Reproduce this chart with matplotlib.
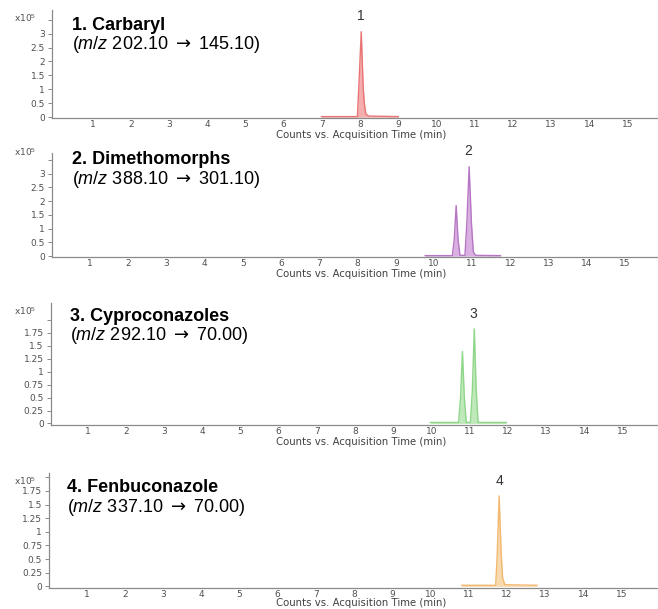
import matplotlib
matplotlib.use("Agg")
import matplotlib.pyplot as plt

plt.rcParams['font.family'] = ['Liberation Sans', 'DejaVu Sans']
plt.rcParams['mathtext.fontset'] = 'custom'
plt.rcParams['mathtext.rm'] = 'Liberation Sans'
plt.rcParams['mathtext.it'] = 'Liberation Sans:italic'
plt.rcParams['mathtext.sf'] = 'DejaVu Sans'

# retention time (min) and counts (x10^5)
t_carbaryl = [6.99, 7.93, 7.97, 8.03, 8.08, 8.11, 8.15, 8.22, 9.0]
c_carbaryl = [0.02, 0.02, 1.2, 3.07, 1.1, 0.5, 0.12, 0.04, 0.02]

t_dimeth = [9.77, 10.48, 10.53, 10.58, 10.63, 10.68, 10.81, 10.86, 10.92, 10.98, 11.03, 11.09, 11.74]
c_dimeth = [0.02, 0.02, 0.6, 1.84, 0.6, 0.03, 0.03, 1.2, 3.25, 1.2, 0.15, 0.03, 0.02]

t_cypro = [9.97, 10.71, 10.76, 10.81, 10.86, 10.91, 11.02, 11.07, 11.12, 11.17, 11.22, 11.96]
c_cypro = [0.02, 0.02, 0.5, 1.39, 0.5, 0.02, 0.02, 0.65, 1.83, 0.65, 0.02, 0.02]

t_fenbu = [10.82, 11.71, 11.75, 11.80, 11.85, 11.89, 11.95, 12.79]
c_fenbu = [0.02, 0.02, 0.6, 1.66, 0.65, 0.15, 0.03, 0.02]

names = ["1. Carbaryl", "2. Dimethomorphs", "3. Cyproconazoles", "4. Fenbuconazole"]
transitions = [("202.10", "145.10"), ("388.10", "301.10"), ("292.10", "70.00"), ("337.10", "70.00")]
peak_labels = ["1", "2", "3", "4"]
label_pos = [8.03, 10.90, 11.10, 11.80]
label_hgt = [3.07, 3.25, 1.83, 1.66]

traces = [(t_carbaryl, c_carbaryl), (t_dimeth, c_dimeth), (t_cypro, c_cypro), (t_fenbu, c_fenbu)]
fills = ['#f4a0a0', '#d3a3dc', '#b4e6ae', '#f9d3a0']
edges = ['#e87474', '#b676c4', '#8fd68a', '#f2b870']

W, H = 658, 609
# pixel boxes: left, top, bottom, x-zero pixel, ylim top, ytick step, ytick max
boxes = [(52, 10, 118, 54.5, 3.85, 0.5, 3.5),
         (52, 153, 257, 52.0, 3.75, 0.5, 3.5),
         (50.7, 303, 425, 49.5, 2.33, 0.25, 2.0),
         (49, 473, 588, 48.4, 2.08, 0.25, 2.0)]
label_gap = [12, 12, 12, 10]
text_y = [(30, 49), (164, 184), (321, 340), (492, 512)]
text_x = [72, 72, 70, 67]
x10_y = [22, 156, 315, 485]
px_per_min = 38.2

fig = plt.figure(figsize=(W / 100, H / 100), dpi=100)

for k in range(4):
    left, top, bot, x0, ytop, ystep, ymax = boxes[k]
    ax = fig.add_axes([left / W, 1 - bot / H, 1 - left / W, (bot - top) / H])
    t, c = traces[k]
    ax.fill_between(t, 0, c, color=fills[k], alpha=0.85, lw=0)
    ax.plot(t, c, color=edges[k], lw=1.0)
    ax.set_xlim((left - x0) / px_per_min, (W - x0) / px_per_min)
    ax.set_ylim(-0.03, ytop)

    n = int(round(ymax / ystep))
    yt = [i * ystep for i in range(n + 1)]
    ylab = [('%g' % v) for v in yt]
    ylab[-1] = ''
    ax.set_yticks(yt)
    ax.set_yticklabels(ylab)
    ax.set_xticks(range(1, 16))
    for s in ['top', 'right']:
        ax.spines[s].set_visible(False)
    for s in ['left', 'bottom']:
        ax.spines[s].set_color('#8a8a8a')
        ax.spines[s].set_linewidth(0.9)
    ax.tick_params(axis='y', length=3, width=0.7, color='#8a8a8a', pad=2,
                   labelsize=6.5, labelcolor='#505050')
    ax.tick_params(axis='x', length=0, pad=1.5, labelsize=6.5, labelcolor='#505050')
    for lab in ax.get_xticklabels() + ax.get_yticklabels():
        lab.set_family('DejaVu Sans')
    ax.set_xlabel('Counts vs. Acquisition Time (min)', fontsize=7.3,
                  color='#404040', family='DejaVu Sans', labelpad=0)
    ax.xaxis.set_label_coords((361 - left) / (W - left), -label_gap[k] / (bot - top))
    ax.xaxis.label.set_va('top')
    ax.patch.set_alpha(0)

    ax.annotate(peak_labels[k], (label_pos[k], label_hgt[k]), xytext=(0, 11),
                textcoords='offset points', ha='center', va='center',
                fontsize=10, color='#333333')

    fig.text(text_x[k] / W, 1 - text_y[k][0] / H, names[k], fontsize=13,
             fontweight='bold', va='baseline', ha='left')
    a, b = transitions[k]
    fig.text(text_x[k] / W, 1 - text_y[k][1] / H,
             r'($\it{m/z}$ ' + a + r' $\mathsf{\rightarrow}$ ' + b + ')',
             fontsize=13, va='baseline', ha='left')
    fig.text(14 / W, 1 - x10_y[k] / H, r'x10$^{5}$', fontsize=6.5, color='#505050',
             va='baseline', ha='left', family='DejaVu Sans')

fig.savefig('out.png', dpi=100)
